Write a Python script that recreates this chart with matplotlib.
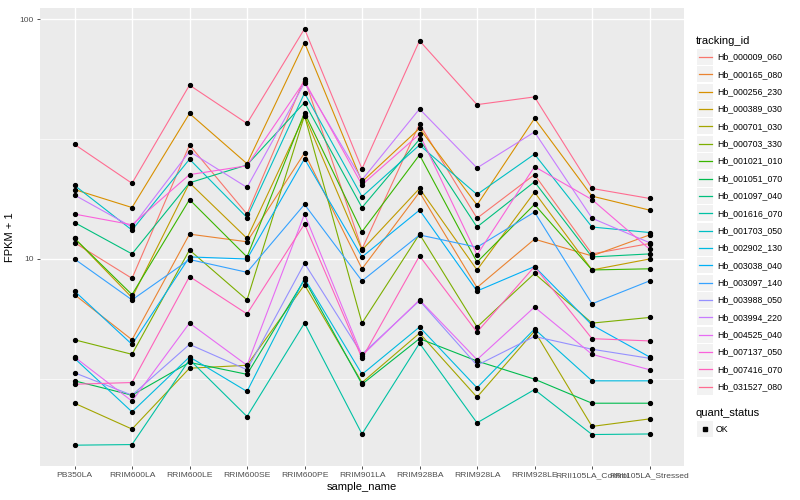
import numpy as np
import matplotlib
matplotlib.use('Agg')
import matplotlib.pyplot as plt
from matplotlib.lines import Line2D
from matplotlib.patches import Rectangle

plt.rcParams['font.family'] = ['Liberation Sans', 'DejaVu Sans']

# x categories
samples = ['PB350LA', 'RRIM600LA', 'RRIM600LE', 'RRIM600SE', 'RRIM600PE', 'RRIM901LA',
           'RRIM928BA', 'RRIM928LA', 'RRIM928LE', 'RRII105LA_Control', 'RRII105LA_Stressed']

tracking_ids = ['Hb_000009_060', 'Hb_000165_080', 'Hb_000256_230', 'Hb_000389_030',
                'Hb_000701_030', 'Hb_000703_330', 'Hb_001021_010', 'Hb_001051_070',
                'Hb_001097_040', 'Hb_001616_070', 'Hb_001703_050', 'Hb_002902_130',
                'Hb_003038_040', 'Hb_003097_140', 'Hb_003988_050', 'Hb_003994_220',
                'Hb_004525_040', 'Hb_007137_050', 'Hb_007416_070', 'Hb_031527_080']

# ggplot default hue palette for 20 levels
colors = ['#F8766D', '#EA8331', '#D89000', '#C09B00', '#A3A500', '#7CAE00', '#39B600',
          '#00BB4E', '#00BF7D', '#00C1A3', '#00BFC4', '#00BAE0', '#00B0F6', '#35A2FF',
          '#9590FF', '#C77CFF', '#E76BF3', '#FA62DB', '#FF62BC', '#FF6C91']

# FPKM + 1 (one list per gene, in sample order)
hb_000009_060 = [11.7, 8.3, 29.9, 15.4, 56.5, 11.0, 36.6, 14.8, 22.5, 10.5, 11.6]
hb_000165_080 = [7.1, 4.6, 12.7, 11.8, 27.7, 9.1, 19.0, 7.6, 12.1, 10.3, 12.6]
hb_000256_230 = [19.5, 16.4, 40.5, 25.0, 80.0, 21.0, 35.1, 16.8, 38.6, 18.3, 16.0]
hb_000389_030 = [12.2, 6.9, 20.8, 12.2, 39.7, 10.9, 19.7, 9.0, 19.0, 9.0, 10.0]
hb_000701_030 = [2.5, 1.95, 3.5, 3.6, 7.8, 3.05, 4.9, 2.65, 5.0, 2.0, 2.15]
hb_000703_330 = [4.6, 4.0, 10.9, 6.75, 39.7, 5.4, 12.7, 5.2, 8.7, 5.4, 5.7]
hb_001021_010 = [12.2, 7.1, 17.7, 10.2, 40.8, 13.0, 27.2, 9.7, 16.9, 9.0, 9.1]
hb_001051_070 = [3.1, 2.7, 3.7, 3.3, 8.2, 3.0, 4.65, 3.75, 3.15, 2.5, 2.5]
hb_001097_040 = [14.2, 10.5, 20.8, 24.7, 45.0, 16.4, 31.6, 13.6, 21.0, 10.2, 10.5]
hb_001616_070 = [1.67, 1.68, 3.8, 2.2, 5.4, 1.86, 4.45, 2.07, 2.85, 1.85, 1.86]
hb_001703_050 = [20.3, 13.2, 26.1, 14.9, 49.3, 18.2, 29.9, 18.6, 27.4, 13.6, 12.9]
hb_002902_130 = [3.85, 2.3, 3.9, 2.8, 8.3, 3.3, 5.2, 2.9, 5.1, 3.1, 3.1]
hb_003038_040 = [7.35, 4.4, 10.2, 10.0, 26.2, 10.2, 16.0, 7.35, 9.3, 5.3, 3.9]
hb_003097_140 = [10.0, 6.75, 9.95, 8.8, 16.9, 8.1, 12.6, 11.2, 15.7, 6.5, 8.1]
hb_003988_050 = [3.35, 2.7, 4.4, 3.45, 9.6, 4.0, 6.7, 3.6, 4.75, 4.2, 3.85]
hb_003994_220 = [18.5, 13.6, 28.1, 19.9, 54.3, 21.4, 42.3, 24.0, 33.9, 14.8, 11.7]
hb_004525_040 = [3.9, 2.55, 5.4, 3.6, 15.4, 3.95, 6.75, 3.8, 6.3, 4.0, 3.45]
hb_007137_050 = [15.4, 13.9, 22.5, 24.5, 55.3, 20.4, 33.2, 10.4, 24.3, 17.7, 11.0]
hb_007416_070 = [3.0, 3.05, 8.45, 5.9, 14.0, 3.85, 10.3, 4.95, 9.3, 4.65, 4.55]
hb_031527_080 = [30.1, 20.7, 53.2, 36.8, 91.4, 23.8, 81.5, 44.1, 47.5, 19.7, 17.9]

series = [hb_000009_060, hb_000165_080, hb_000256_230, hb_000389_030, hb_000701_030,
          hb_000703_330, hb_001021_010, hb_001051_070, hb_001097_040, hb_001616_070,
          hb_001703_050, hb_002902_130, hb_003038_040, hb_003097_140, hb_003988_050,
          hb_003994_220, hb_004525_040, hb_007137_050, hb_007416_070, hb_031527_080]

fig = plt.figure(figsize=(8, 5), dpi=100)
ax = fig.add_axes([0.05, 0.068, 0.805, 0.916])
ax.set_facecolor('#EBEBEB')
for s in ax.spines.values():
    s.set_visible(False)

x = np.arange(len(samples))
for vals, c in zip(series, colors):
    ax.plot(x, vals, color=c, lw=0.8, zorder=3)
for vals in series:
    ax.plot(x, vals, ls='none', marker='o', ms=2.8, color='black', zorder=4)

ax.set_yscale('log')
allv = np.concatenate([np.array(v) for v in series])
lo, hi = np.log10(allv.min()), np.log10(allv.max())
pad = 0.05 * (hi - lo)
ax.set_ylim(10 ** (lo - pad), 10 ** (hi + pad))
ax.set_xlim(-0.6, len(samples) - 0.4)

ax.set_yticks([10, 100])
ax.set_yticklabels(['10', '100'])
ax.set_yticks([10 ** 0.5, 10 ** 1.5], minor=True)
ax.yaxis.set_minor_formatter(plt.NullFormatter())
ax.set_xticks(x)
ax.set_xticklabels(samples)

ax.grid(which='major', color='white', lw=1.0, zorder=0)
ax.grid(which='minor', axis='y', color='white', lw=0.5, zorder=0)
ax.set_axisbelow(True)
ax.tick_params(which='major', length=2.5, width=0.6, color='#333333',
               labelsize=6.1, labelcolor='#4D4D4D', pad=2)
ax.tick_params(which='minor', length=0)

ax.set_xlabel('sample_name', fontsize=8, labelpad=2)
ax.set_ylabel('FPKM + 1', fontsize=8, labelpad=3)

# legend drawn ggplot-style in figure pixels
W, H = 800, 500
def fx(px):
    return px / W
def fy(py):
    return 1 - py / H

fig.text(fx(696), fy(41), 'tracking_id', fontsize=8, va='center', ha='left')
for i, (tid, c) in enumerate(zip(tracking_ids, colors)):
    yc = 57 + i * 17.36
    fig.patches.append(Rectangle((fx(697), fy(yc + 8)), 16 / W, 16 / H,
                                 transform=fig.transFigure, facecolor='#F2F2F2',
                                 edgecolor='none'))
    fig.lines.append(Line2D([fx(698.5), fx(711.5)], [fy(yc), fy(yc)],
                            transform=fig.transFigure, color=c, lw=0.9))
    fig.text(fx(717), fy(yc), tid, fontsize=6.3, va='center', ha='left')

fig.text(fx(696), fy(413), 'quant_status', fontsize=8, va='center', ha='left')
fig.patches.append(Rectangle((fx(697), fy(437)), 16 / W, 16 / H,
                             transform=fig.transFigure, facecolor='#F2F2F2',
                             edgecolor='none'))
fig.lines.append(Line2D([fx(705)], [fy(429)], transform=fig.transFigure, ls='none',
                        marker='s', ms=2.2, color='black'))
fig.text(fx(716), fy(429), 'OK', fontsize=6.3, va='center', ha='left')

fig.savefig('out.png', dpi=100)
